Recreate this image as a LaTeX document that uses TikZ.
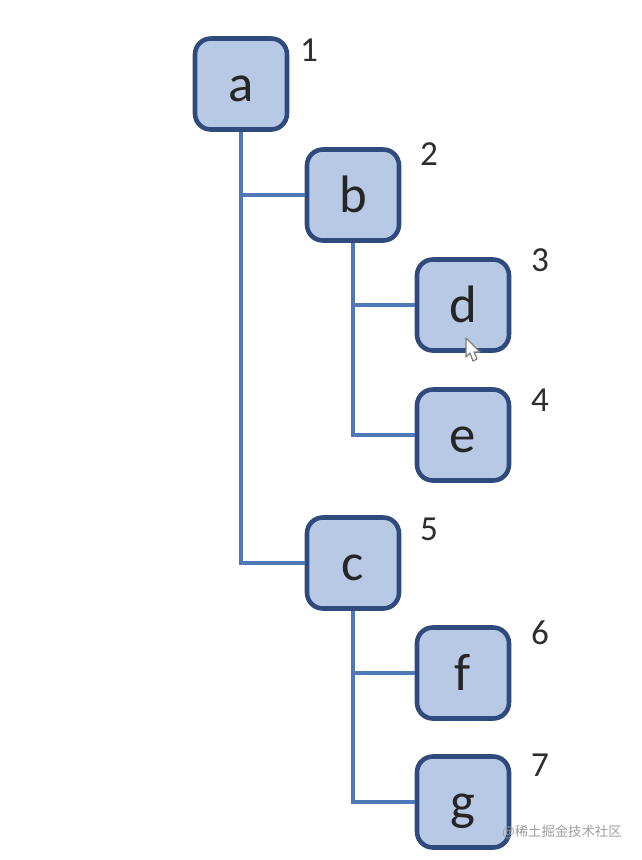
\documentclass[tikz,border=0pt]{standalone}
\usepackage{fontspec}
\setmainfont{Carlito}
\newfontfamily\cjk{Noto Sans CJK SC}
\definecolor{boxfill}{RGB}{184,201,229}
\definecolor{boxline}{RGB}{47,75,125}
\definecolor{linkline}{RGB}{79,120,182}
\definecolor{numtext}{RGB}{45,45,45}
\tikzset{
  treebox/.style={draw=boxline, fill=boxfill, line width=2.6pt, rounded corners=9pt,
    minimum width=1.84cm, minimum height=1.82cm, inner sep=0pt, text=black!85,
    text height=26pt, text depth=6pt, font=\fontsize{30}{30}\selectfont},
  numlabel/.style={text=numtext, inner sep=0pt, font=\fontsize{20}{20}\selectfont},
  link/.style={draw=linkline, line width=2.5pt}
}
\begin{document}
\begin{tikzpicture}[x=0.02cm, y=-0.02cm]
    \useasboundingbox (0,0) rectangle (642,860);
    \fill[white] (0,0) rectangle (642,860);

    \node[treebox](a) at (241, 84) {a};
    \node[treebox](b) at (353,195) {b};
    \node[treebox](d) at (463,305) {d};
    \node[treebox](e) at (463,435) {e};
    \node[treebox](c) at (353,563) {c};
    \node[treebox](f) at (463,673) {f};
    \node[treebox](g) at (463,802) {g};

    \node[numlabel](n1) at (309, 50) {1};
    \node[numlabel](n2) at (429,154) {2};
    \node[numlabel](n3) at (540,260) {3};
    \node[numlabel](n4) at (540,400) {4};
    \node[numlabel](n5) at (429,529) {5};
    \node[numlabel](n6) at (540,633) {6};
    \node[numlabel](n7) at (540,765) {7};

    \draw[link] (a.south) |- (b.west)
                (a.south) |- (c.west)
                (b.south) |- (d.west)
                (b.south) |- (e.west)
                (c.south) |- (f.west)
                (c.south) |- (g.west);

    % cursor
    \draw[fill=white, draw=gray, line width=0.7pt, line join=round]
      (466,338) -- (466,357) -- (470,353) -- (473,361) -- (477,359) -- (474,352) -- (480,352) -- cycle;

    \node[text=gray!75, inner sep=0pt, anchor=east, font=\cjk\fontsize{7.6}{8}\selectfont](mark) at (622,832) {@稀土掘金技术社区};
  \end{tikzpicture}
\end{document}
